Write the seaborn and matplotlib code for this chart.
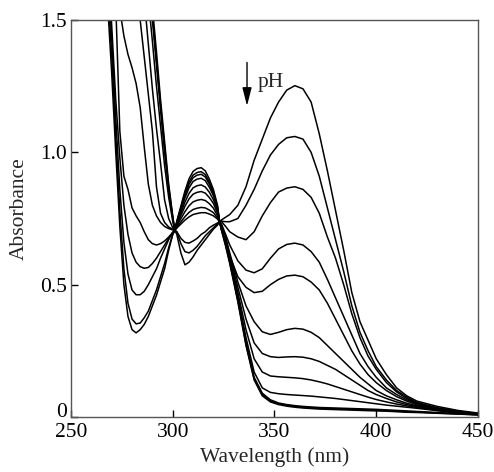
# UV-Vis absorption spectra at different pH values

import numpy as np
import pandas as pd
import seaborn as sns
import matplotlib.pyplot as plt
import matplotlib.transforms as mtransforms

# wavelength grid (nm)
wl = [265, 268, 270, 272, 274, 276, 278, 280, 282, 284, 286, 288, 290, 292, 294, 296, 298, 300, 301,
      302, 304, 306, 308, 310, 312, 314, 316, 318, 320, 322, 323, 324, 326, 328, 332, 336, 340, 344,
      348, 352, 356, 360, 364, 368, 372, 376, 380, 384, 388, 392, 396, 400, 405, 410, 415, 420, 430,
      440, 450]

# absorbance, from the highest band at 360 nm down
s01 = [1.95, 1.56, 1.30, 1.00, 0.72, 0.50, 0.38, 0.33, 0.318, 0.33, 0.35, 0.38, 0.42, 0.46, 0.51, 0.56, 0.63, 0.69, 0.705,
       0.69, 0.62, 0.575, 0.585, 0.605, 0.63, 0.65, 0.67, 0.69, 0.71, 0.725, 0.738, 0.745, 0.755, 0.765, 0.80, 0.87, 0.97, 1.05,
       1.13, 1.19, 1.235, 1.252, 1.24, 1.19, 1.07, 0.93, 0.78, 0.63, 0.47, 0.36, 0.29, 0.22, 0.16, 0.11, 0.08, 0.06, 0.04,
       0.025, 0.015]
s02 = [2.0, 1.62, 1.37, 1.06, 0.78, 0.56, 0.43, 0.37, 0.352, 0.355, 0.375, 0.40, 0.44, 0.48, 0.53, 0.58, 0.64, 0.69, 0.705,
       0.70, 0.655, 0.625, 0.62, 0.63, 0.645, 0.665, 0.685, 0.70, 0.715, 0.73, 0.738, 0.74, 0.738, 0.738, 0.75, 0.80, 0.86, 0.93,
       0.99, 1.03, 1.055, 1.06, 1.05, 1.00, 0.91, 0.79, 0.67, 0.55, 0.42, 0.32, 0.25, 0.19, 0.14, 0.10, 0.075, 0.055, 0.035,
       0.022, 0.013]
s03 = [2.05, 1.68, 1.43, 1.13, 0.86, 0.66, 0.54, 0.48, 0.462, 0.462, 0.475, 0.50, 0.53, 0.56, 0.60, 0.635, 0.67, 0.698, 0.705,
       0.70, 0.675, 0.66, 0.657, 0.665, 0.675, 0.69, 0.70, 0.715, 0.725, 0.733, 0.738, 0.738, 0.72, 0.70, 0.68, 0.67, 0.70, 0.76,
       0.81, 0.85, 0.865, 0.87, 0.86, 0.83, 0.77, 0.68, 0.60, 0.50, 0.39, 0.30, 0.23, 0.18, 0.13, 0.095, 0.07, 0.052, 0.033,
       0.02, 0.012]
s04 = [2.1, 1.72, 1.48, 1.20, 0.98, 0.80, 0.69, 0.62, 0.585, 0.568, 0.562, 0.565, 0.58, 0.60, 0.625, 0.65, 0.675, 0.698, 0.705,
       0.714, 0.729, 0.744, 0.756, 0.765, 0.769, 0.772, 0.772, 0.767, 0.76, 0.748, 0.738, 0.728, 0.69, 0.65, 0.59, 0.555, 0.545, 0.56,
       0.60, 0.635, 0.652, 0.657, 0.65, 0.625, 0.585, 0.52, 0.45, 0.38, 0.31, 0.24, 0.19, 0.15, 0.11, 0.085, 0.065, 0.05, 0.03,
       0.019, 0.011]
s05 = [2.2, 1.85, 1.68, 1.56, 1.08, 0.91, 0.86, 0.79, 0.76, 0.735, 0.70, 0.67, 0.655, 0.65, 0.655, 0.665, 0.68, 0.697, 0.705,
       0.717, 0.737, 0.757, 0.773, 0.784, 0.789, 0.792, 0.79, 0.782, 0.772, 0.752, 0.738, 0.725, 0.67, 0.61, 0.53, 0.49, 0.47, 0.475,
       0.50, 0.52, 0.533, 0.536, 0.53, 0.51, 0.48, 0.43, 0.37, 0.31, 0.25, 0.20, 0.16, 0.13, 0.10, 0.077, 0.06, 0.046, 0.028,
       0.018, 0.011]
s06 = [2.3, 1.95, 1.78, 1.64, 1.54, 1.44, 1.37, 1.32, 1.26, 1.17, 1.02, 0.88, 0.80, 0.76, 0.735, 0.72, 0.712, 0.707, 0.705,
       0.722, 0.749, 0.776, 0.798, 0.813, 0.819, 0.822, 0.818, 0.806, 0.789, 0.76, 0.738, 0.72, 0.68, 0.62, 0.51, 0.42, 0.36, 0.322,
       0.312, 0.32, 0.33, 0.335, 0.332, 0.32, 0.30, 0.27, 0.24, 0.21, 0.18, 0.15, 0.125, 0.10, 0.08, 0.065, 0.052, 0.042, 0.027,
       0.017, 0.01]
s07 = [2.6, 2.3, 2.15, 2.0, 1.9, 1.8, 1.72, 1.64, 1.57, 1.50, 1.36, 1.22, 1.08, 0.87, 0.77, 0.735, 0.718, 0.709, 0.705,
       0.726, 0.761, 0.796, 0.824, 0.842, 0.849, 0.852, 0.846, 0.829, 0.807, 0.77, 0.738, 0.715, 0.67, 0.61, 0.49, 0.37, 0.28, 0.24,
       0.228, 0.225, 0.227, 0.228, 0.226, 0.22, 0.21, 0.195, 0.18, 0.16, 0.14, 0.12, 0.10, 0.085, 0.07, 0.057, 0.047, 0.039, 0.026,
       0.016, 0.01]
s08 = [2.8, 2.5, 2.35, 2.2, 2.1, 2.0, 1.9, 1.82, 1.74, 1.67, 1.58, 1.41, 1.24, 1.09, 0.96, 0.82, 0.75, 0.715, 0.705,
       0.73, 0.771, 0.812, 0.845, 0.866, 0.874, 0.877, 0.869, 0.849, 0.821, 0.78, 0.738, 0.712, 0.665, 0.60, 0.47, 0.33, 0.22, 0.17,
       0.155, 0.152, 0.15, 0.148, 0.145, 0.14, 0.133, 0.125, 0.115, 0.105, 0.095, 0.085, 0.075, 0.066, 0.057, 0.049, 0.042, 0.036, 0.025,
       0.016, 0.01]
s09 = [2.9, 2.6, 2.45, 2.3, 2.2, 2.1, 2.0, 1.92, 1.84, 1.76, 1.68, 1.58, 1.42, 1.25, 1.10, 0.95, 0.83, 0.74, 0.705,
       0.734, 0.781, 0.828, 0.866, 0.89, 0.899, 0.902, 0.893, 0.868, 0.836, 0.785, 0.738, 0.71, 0.66, 0.595, 0.455, 0.30, 0.17, 0.11,
       0.093, 0.088, 0.085, 0.083, 0.081, 0.079, 0.076, 0.073, 0.07, 0.066, 0.062, 0.058, 0.054, 0.05, 0.045, 0.041, 0.037, 0.033, 0.024,
       0.016, 0.01]
s10 = [3.0, 2.7, 2.55, 2.4, 2.3, 2.2, 2.1, 2.02, 1.94, 1.86, 1.78, 1.66, 1.50, 1.33, 1.16, 1.00, 0.86, 0.75, 0.705,
       0.736, 0.787, 0.838, 0.879, 0.904, 0.914, 0.917, 0.907, 0.88, 0.844, 0.79, 0.738, 0.708, 0.655, 0.59, 0.45, 0.285, 0.15, 0.09,
       0.065, 0.053, 0.047, 0.043, 0.04, 0.038, 0.036, 0.035, 0.034, 0.033, 0.032, 0.031, 0.03, 0.029, 0.027, 0.025, 0.023, 0.021, 0.017,
       0.013, 0.009]
s11 = [3.1, 2.8, 2.65, 2.5, 2.4, 2.3, 2.2, 2.1, 2.0, 1.9, 1.8, 1.68, 1.52, 1.35, 1.18, 1.02, 0.87, 0.755, 0.705,
       0.737, 0.791, 0.844, 0.888, 0.914, 0.924, 0.927, 0.916, 0.888, 0.85, 0.795, 0.738, 0.706, 0.65, 0.585, 0.44, 0.275, 0.145, 0.085,
       0.06, 0.05, 0.045, 0.04, 0.037, 0.035, 0.033, 0.032, 0.031, 0.03, 0.029, 0.028, 0.027, 0.026, 0.024, 0.022, 0.02, 0.019, 0.015,
       0.012, 0.008]
s12 = [3.2, 2.9, 2.75, 2.6, 2.5, 2.4, 2.3, 2.2, 2.1, 1.98, 1.85, 1.71, 1.55, 1.38, 1.20, 1.04, 0.88, 0.76, 0.705,
       0.74, 0.797, 0.854, 0.90, 0.928, 0.939, 0.942, 0.93, 0.899, 0.859, 0.80, 0.738, 0.704, 0.645, 0.58, 0.435, 0.27, 0.14, 0.08,
       0.057, 0.047, 0.041, 0.037, 0.034, 0.032, 0.03, 0.029, 0.028, 0.027, 0.026, 0.025, 0.024, 0.023, 0.022, 0.02, 0.018, 0.017, 0.014,
       0.011, 0.008]

spectra = [s01, s02, s03, s04, s05, s06, s07, s08, s09, s10, s11, s12]

# long form table for seaborn
df = pd.concat([pd.DataFrame({'wl': wl, 'A': s, 'curve': i}) for i, s in enumerate(spectra)],
               ignore_index=True)

sns.set_style('ticks')
plt.rcParams['font.family'] = ['Liberation Serif', 'DejaVu Serif']

fig = plt.figure(figsize=(4.94, 4.72), dpi=100)
ax = fig.add_axes([0.1437, 0.1165, 0.8239, 0.8411])

sns.lineplot(data=df, x='wl', y='A', units='curve', estimator=None, sort=False,
             color='black', linewidth=1.1, legend=False, ax=ax)

ax.set_xlim(250, 450)
ax.set_ylim(0, 1.5)
ax.set_xticks([250, 300, 350, 400, 450])
ax.set_yticks([0, 0.5, 1.0, 1.5])
ax.set_yticklabels(['0', '0.5', '1.0', '1.5'])
ax.tick_params(direction='in', length=5, width=1, labelsize=15.5, colors='black')
ax.tick_params(axis='x', pad=4)
ax.tick_params(axis='y', pad=3)
for sp in ax.spines.values():
    sp.set_color('#555555')
    sp.set_linewidth(1.0)

# the "0" label sits a little higher, clear of "250"
lab0 = ax.get_yticklabels()[0]
lab0.set_transform(lab0.get_transform() + mtransforms.ScaledTranslation(0, 5 / 72, fig.dpi_scale_trans))

ax.set_xlabel('Wavelength (nm)', fontsize=15.5)
ax.set_ylabel('Absorbance', fontsize=15.5)
ax.xaxis.set_label_coords(0.5, -0.075)
ax.yaxis.set_label_coords(-0.104, 0.525)

# pH arrow
ax.annotate('', xy=(336.5, 1.165), xytext=(336.5, 1.35),
            arrowprops=dict(arrowstyle='-|>,head_length=1.1,head_width=0.28', color='black',
                            lw=1.0, mutation_scale=10))
ax.text(341.5, 1.265, 'pH', fontsize=15.5, va='center', ha='left')

fig.savefig('out.png', dpi=100)
